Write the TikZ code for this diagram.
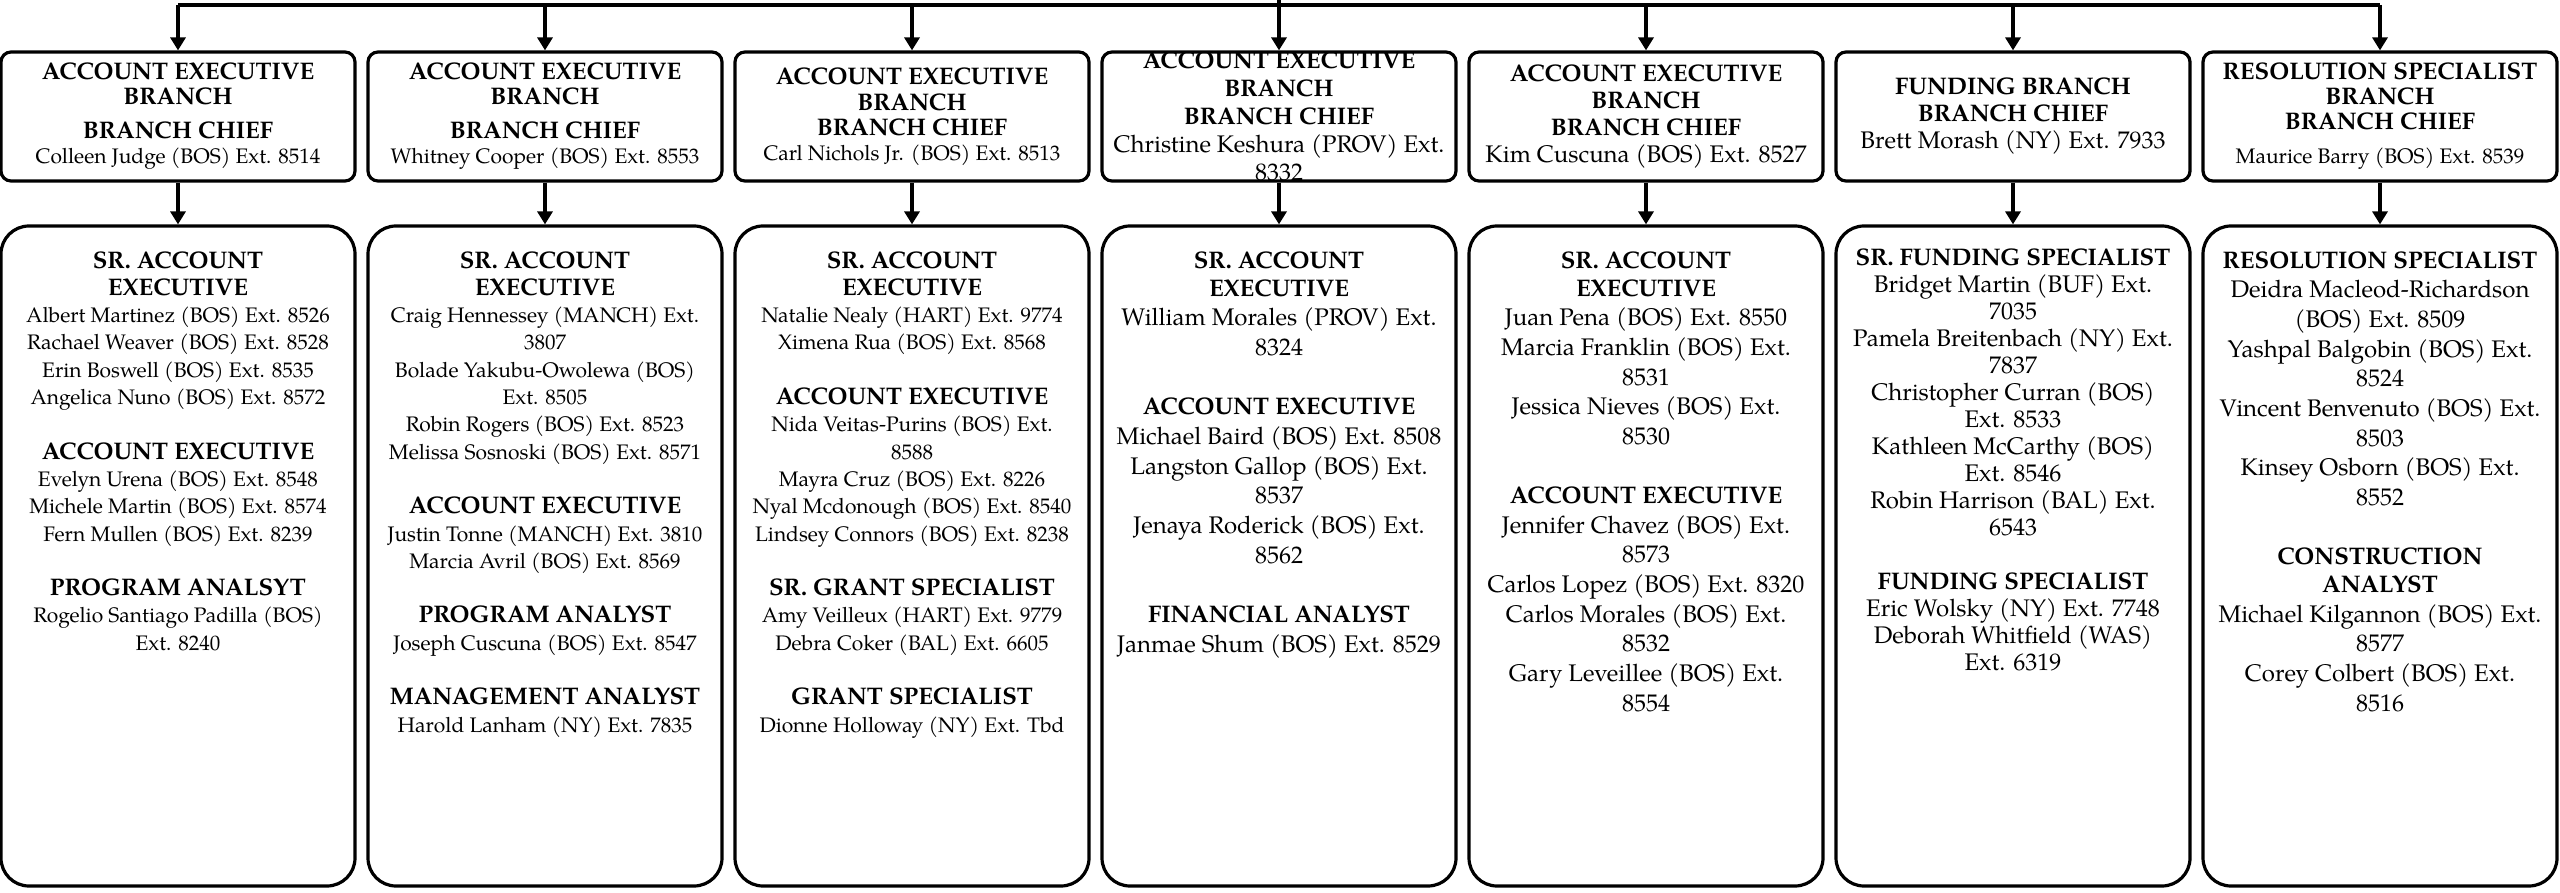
\documentclass[tikz,border=0pt]{standalone}
\usepackage{fontspec}
\setmainfont{texgyrepagella}[Extension=.otf,UprightFont=*-regular,BoldFont=*-bold,ItalicFont=*-italic,BoldItalicFont=*-bolditalic]
\usetikzlibrary{arrows.meta}
\newcommand{\ttl}[1]{{\fontsize{12}{14}\selectfont\bfseries #1}}
\tikzset{
  conn/.style={line width=1.7pt},
  arr/.style={line width=1.7pt,-{Triangle[width=7.5pt,length=6.5pt]}},
  topbox/.style={draw,line width=1.6pt,rounded corners=5pt,minimum width=177pt,minimum height=64.5pt,inner sep=0pt},
  botbox/.style={draw,line width=1.6pt,rounded corners=14pt,minimum width=177pt,minimum height=330pt,inner sep=0pt},
  txt/.style={align=center,inner sep=0pt},
  tsm/.style={txt,font=\fontsize{10.5}{12.5}\selectfont},
  tlg/.style={txt,font=\fontsize{12}{13.5}\selectfont},
  sm/.style={txt,anchor=north,font=\fontsize{10.5}{13.65}\selectfont},
  lg/.style={txt,anchor=north,font=\fontsize{12}{14.85}\selectfont},
  md/.style={txt,anchor=north,font=\fontsize{12}{13.5}\selectfont},
}
\begin{document}
\begin{tikzpicture}[x=0.5pt,y=-0.5pt]
\useasboundingbox (0,0) rectangle (2560,893);
% boxes
\foreach \i/\x in {1/178,2/545,3/912,4/1279,5/1646,6/2013,7/2380}{
  \node[topbox] (t\i) at (\x,116.5) {};
  \node[botbox] (b\i) at (\x,556) {};
  \coordinate (h\i) at (\x,5);
}
\coordinate (root) at (1279,0);
% connectors
\draw[conn] (h1) -- (h7);
\draw[conn] (root) -- (h4);
\foreach \i in {1,...,7}{
  \draw[arr] (h\i) -- (t\i.north);
  \draw[arr] (t\i.south) -- (b\i.north);
}
% top texts
\node[tsm] (tt1) at (t1.center) {\ttl{ACCOUNT EXECUTIVE}\\ \ttl{BRANCH}\\[4.5pt] \ttl{BRANCH CHIEF}\\ Colleen Judge (BOS) Ext. 8514};
\node[tsm] (tt2) at (t2.center) {\ttl{ACCOUNT EXECUTIVE}\\ \ttl{BRANCH}\\[4.5pt] \ttl{BRANCH CHIEF}\\ Whitney Cooper (BOS) Ext. 8553};
\node[tsm] (tt3) at (t3.center) {\ttl{ACCOUNT EXECUTIVE}\\[0.5pt] \ttl{BRANCH}\\ \ttl{BRANCH CHIEF}\\ Carl Nichols Jr. (BOS) Ext. 8513};
\node[txt,font=\fontsize{12}{14}\selectfont] (tt4) at (t4.center) {\ttl{ACCOUNT EXECUTIVE}\\ \ttl{BRANCH}\\ \ttl{BRANCH CHIEF}\\ Christine Keshura (PROV) Ext.\\ 8332};
\node[tlg] (tt5) at (t5.center) {\ttl{ACCOUNT EXECUTIVE}\\ \ttl{BRANCH}\\ \ttl{BRANCH CHIEF}\\ Kim Cuscuna (BOS) Ext. 8527};
\node[tlg] (tt6) at (t6.center) {\ttl{FUNDING BRANCH}\\ \ttl{BRANCH CHIEF}\\ Brett Morash (NY) Ext. 7933};
\node[tsm] (tt7) at (t7.center) {\ttl{RESOLUTION SPECIALIST}\\ \ttl{BRANCH}\\ \ttl{BRANCH CHIEF}\\[4.5pt] Maurice Barry (BOS) Ext. 8539};
% bottom texts
\node[sm] (bt1) at (178,251) {\ttl{SR. ACCOUNT}\\ \ttl{EXECUTIVE}\\
Albert Martinez (BOS) Ext. 8526\\ Rachael Weaver (BOS) Ext. 8528\\ Erin Boswell (BOS) Ext. 8535\\ Angelica Nuno (BOS) Ext. 8572\\[13.65pt]
\ttl{ACCOUNT EXECUTIVE}\\ Evelyn Urena (BOS) Ext. 8548\\ Michele Martin (BOS) Ext. 8574\\ Fern Mullen (BOS) Ext. 8239\\[13.65pt]
\ttl{PROGRAM ANALSYT}\\ Rogelio Santiago Padilla (BOS)\\ Ext. 8240};
\node[sm] (bt2) at (545,251) {\ttl{SR. ACCOUNT}\\ \ttl{EXECUTIVE}\\
Craig Hennessey (MANCH) Ext.\\ 3807\\ Bolade Yakubu-Owolewa (BOS)\\ Ext. 8505\\ Robin Rogers (BOS) Ext. 8523\\ Melissa Sosnoski (BOS) Ext. 8571\\[13.65pt]
\ttl{ACCOUNT EXECUTIVE}\\ Justin Tonne (MANCH) Ext. 3810\\ Marcia Avril (BOS) Ext. 8569\\[13.65pt]
\ttl{PROGRAM ANALYST}\\ Joseph Cuscuna (BOS) Ext. 8547\\[13.65pt]
\ttl{MANAGEMENT ANALYST}\\ Harold Lanham (NY) Ext. 7835};
\node[sm] (bt3) at (912,251) {\ttl{SR. ACCOUNT}\\ \ttl{EXECUTIVE}\\
Natalie Nealy (HART) Ext. 9774\\ Ximena Rua (BOS) Ext. 8568\\[13.65pt]
\ttl{ACCOUNT EXECUTIVE}\\ Nida Veitas-Purins (BOS) Ext.\\ 8588\\ Mayra Cruz (BOS) Ext. 8226\\ Nyal Mcdonough (BOS) Ext. 8540\\ Lindsey Connors (BOS) Ext. 8238\\[13.65pt]
\ttl{SR. GRANT SPECIALIST}\\ Amy Veilleux (HART) Ext. 9779\\ Debra Coker (BAL) Ext. 6605\\[13.65pt]
\ttl{GRANT SPECIALIST}\\ Dionne Holloway (NY) Ext. Tbd};
\node[lg] (bt4) at (1279,251) {\ttl{SR. ACCOUNT}\\[-0.85pt] \ttl{EXECUTIVE}\\
William Morales (PROV) Ext.\\ 8324\\[14.85pt]
\ttl{ACCOUNT EXECUTIVE}\\ Michael Baird (BOS) Ext. 8508\\ Langston Gallop (BOS) Ext.\\ 8537\\ Jenaya Roderick (BOS) Ext.\\ 8562\\[14.85pt]
\ttl{FINANCIAL ANALYST}\\ Janmae Shum (BOS) Ext. 8529};
\node[lg] (bt5) at (1646,251) {\ttl{SR. ACCOUNT}\\[-0.85pt] \ttl{EXECUTIVE}\\
Juan Pena (BOS) Ext. 8550\\ Marcia Franklin (BOS) Ext.\\ 8531\\ Jessica Nieves (BOS) Ext.\\ 8530\\[14.6pt]
\ttl{ACCOUNT EXECUTIVE}\\ Jennifer Chavez (BOS) Ext.\\ 8573\\ Carlos Lopez (BOS) Ext. 8320\\ Carlos Morales (BOS) Ext.\\ 8532\\ Gary Leveillee (BOS) Ext.\\ 8554};
\node[md] (bt6) at (2013,248) {\ttl{SR. FUNDING SPECIALIST}\\
Bridget Martin (BUF) Ext.\\ 7035\\ Pamela Breitenbach (NY) Ext.\\ 7837\\ Christopher Curran (BOS)\\ Ext. 8533\\ Kathleen McCarthy (BOS)\\ Ext. 8546\\ Robin Harrison (BAL) Ext.\\ 6543\\[13.5pt]
\ttl{FUNDING SPECIALIST}\\ Eric Wolsky (NY) Ext. 7748\\ Deborah Whitfield (WAS)\\ Ext. 6319};
\node[lg] (bt7) at (2380,251) {\ttl{RESOLUTION SPECIALIST}\\
Deidra Macleod-Richardson\\ (BOS) Ext. 8509\\ Yashpal Balgobin (BOS) Ext.\\ 8524\\ Vincent Benvenuto (BOS) Ext.\\ 8503\\ Kinsey Osborn (BOS) Ext.\\ 8552\\[14.6pt]
\ttl{CONSTRUCTION}\\[-0.85pt] \ttl{ANALYST}\\ Michael Kilgannon (BOS) Ext.\\ 8577\\ Corey Colbert (BOS) Ext.\\ 8516};
\end{tikzpicture}
\end{document}
